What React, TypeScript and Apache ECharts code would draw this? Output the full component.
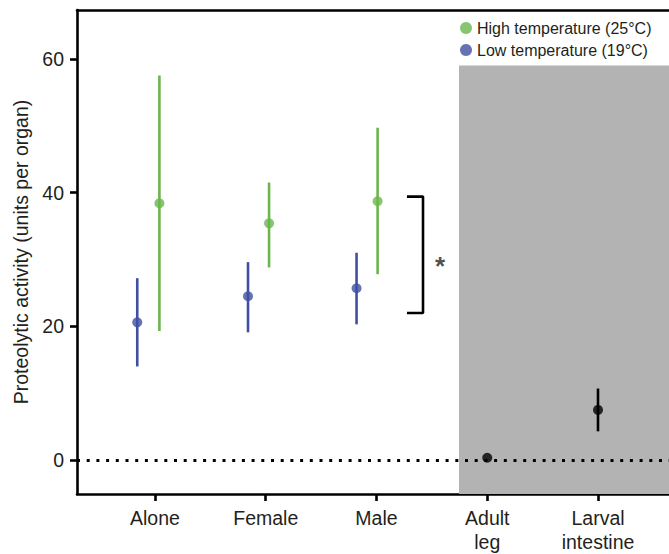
import React, { useEffect, useRef } from "react";
import * as echarts from "echarts";

const categories = ["Alone", "Female", "Male", "Adult\nleg", "Larval\nintestine"];
const categoryPositions = [0, 1, 2, 3, 4];
const yTicks = [0, 20, 40, 60];

// Low temperature (19°C): [x, mean, low, high]
const lowTempX = [-0.16, 0.84, 1.82];
const lowTempMean = [20.6, 24.5, 25.7];
const lowTempLow = [14.0, 19.1, 20.3];
const lowTempHigh = [27.2, 29.6, 31.0];

// High temperature (25°C)
const highTempX = [0.04, 1.03, 2.01];
const highTempMean = [38.4, 35.4, 38.7];
const highTempLow = [19.3, 28.8, 27.8];
const highTempHigh = [57.5, 41.5, 49.7];

// Controls (black)
const controlX = [3, 4];
const controlMean = [0.35, 7.5];
const controlLow = [null, 4.3];
const controlHigh = [null, 10.7];

// Significance bracket
const bracketX = [2.275, 2.42];
const bracketY = [39.4, 22.0];
const starPos = [2.575, 29.0];

const X_MIN = -0.704;
const X_MAX = 4.641;
const Y_MIN = -5.07;
const Y_MAX = 67.3;
const SHADE_X = 2.745;
const SHADE_TOP = 59.0;

const GREEN = "#6ab64c";
const BLUE = "#4050a0";
const FONT = "'Liberation Sans', Arial, Helvetica, sans-serif";
const TEXT = "#231f20";

function errorSeries(name: string, xs: number[], lo: (number | null)[], hi: (number | null)[], color: string) {
  const data: number[][] = [];
  xs.forEach((x, i) => {
    if (lo[i] != null && hi[i] != null) data.push([x, lo[i] as number, hi[i] as number]);
  });
  return {
    type: "custom",
    name,
    data,
    encode: { x: 0, y: [1, 2] },
    z: 3,
    silent: true,
    renderItem: (params: any, api: any) => {
      const p1 = api.coord([api.value(0), api.value(1)]);
      const p2 = api.coord([api.value(0), api.value(2)]);
      return {
        type: "line",
        shape: { x1: p1[0], y1: p1[1], x2: p2[0], y2: p2[1] },
        style: { stroke: color, lineWidth: 2.6 },
      };
    },
  };
}

export default function App() {
  const ref = useRef<HTMLDivElement>(null);
  useEffect(() => {
    if (!ref.current) return;
    const chart = echarts.init(ref.current, undefined, { renderer: "svg" });
    const option: any = {
      animation: false,
      backgroundColor: "#fff",
      textStyle: { fontFamily: FONT },
      grid: { left: 77, right: 0, top: 10, bottom: 59, containLabel: false },
      legend: {
        orient: "vertical",
        left: 455,
        top: 15,
        itemWidth: 12,
        itemHeight: 12,
        itemGap: 6,
        icon: "circle",
        textStyle: { fontFamily: FONT, fontSize: 16, color: TEXT },
        data: [
          { name: "High temperature (25°C)", itemStyle: { color: GREEN } },
          { name: "Low temperature (19°C)", itemStyle: { color: BLUE } },
        ],
        selectedMode: false,
      },
      xAxis: [
        {
          type: "value",
          min: X_MIN,
          max: X_MAX,
          splitLine: { show: false },
          axisLine: { show: true, onZero: false, lineStyle: { color: "#000", width: 2.6 } },
          axisTick: {
            show: true,
            customValues: categoryPositions,
            length: 7,
            lineStyle: { color: "#000", width: 2.6 },
          },
          axisLabel: {
            show: true,
            customValues: categoryPositions,
            formatter: (v: number) => categories[Math.round(v)] ?? "",
            fontFamily: FONT,
            fontSize: 19.5,
            color: TEXT,
            lineHeight: 24,
            margin: 12,
          },
        },
        {
          type: "value",
          position: "top",
          min: X_MIN,
          max: X_MAX,
          splitLine: { show: false },
          axisLine: { show: true, onZero: false, lineStyle: { color: "#000", width: 2.6 } },
          axisTick: { show: false },
          axisLabel: { show: false },
        },
      ],
      yAxis: {
        type: "value",
        min: Y_MIN,
        max: Y_MAX,
        splitLine: { show: false },
        name: "Proteolytic activity (units per organ)",
        nameLocation: "middle",
        nameRotate: 90,
        nameGap: 46,
        nameTextStyle: { fontFamily: FONT, fontSize: 19.5, color: TEXT },
        axisLine: { show: true, onZero: false, lineStyle: { color: "#000", width: 2.6 } },
        axisTick: {
          show: true,
          customValues: yTicks,
          length: 7,
          lineStyle: { color: "#000", width: 2.6 },
        },
        axisLabel: {
          show: true,
          customValues: yTicks,
          fontFamily: FONT,
          fontSize: 19.5,
          color: TEXT,
          margin: 13,
        },
      },
      series: [
        {
          type: "scatter",
          name: "background",
          data: [],
          silent: true,
          z: 1,
          markArea: {
            silent: true,
            itemStyle: { color: "#b3b3b3" },
            data: [[{ coord: [SHADE_X, SHADE_TOP] }, { coord: [X_MAX, Y_MIN] }]],
          },
          markLine: {
            silent: true,
            symbol: "none",
            label: { show: false },
            lineStyle: { color: "#000", type: [3, 6.7], width: 3 },
            data: [{ yAxis: 0 }],
          },
        },
        errorSeries("lowErr", lowTempX, lowTempLow, lowTempHigh, BLUE),
        errorSeries("highErr", highTempX, highTempLow, highTempHigh, GREEN),
        errorSeries("ctrlErr", controlX, controlLow, controlHigh, "#000"),
        {
          type: "scatter",
          name: "Low temperature (19°C)",
          data: lowTempX.map((x, i) => [x, lowTempMean[i]]),
          symbol: "circle",
          symbolSize: 10,
          itemStyle: { color: BLUE },
          z: 4,
        },
        {
          type: "scatter",
          name: "High temperature (25°C)",
          data: highTempX.map((x, i) => [x, highTempMean[i]]),
          symbol: "circle",
          symbolSize: 10,
          itemStyle: { color: GREEN },
          z: 4,
        },
        {
          type: "scatter",
          name: "controls",
          data: controlX.map((x, i) => [x, controlMean[i]]),
          symbol: "circle",
          symbolSize: 10,
          itemStyle: { color: "#000" },
          z: 4,
        },
        {
          type: "line",
          name: "bracket",
          data: [
            [bracketX[0], bracketY[0]],
            [bracketX[1], bracketY[0]],
            [bracketX[1], bracketY[1]],
            [bracketX[0], bracketY[1]],
          ],
          showSymbol: false,
          symbol: "none",
          lineStyle: { color: "#000", width: 2.6 },
          silent: true,
          z: 3,
        },
        {
          type: "scatter",
          name: "star",
          data: [starPos],
          symbolSize: 0,
          silent: true,
          label: {
            show: true,
            position: "inside",
            formatter: "*",
            fontFamily: FONT,
            fontSize: 26,
            fontWeight: "bold",
            color: TEXT,
          },
          z: 4,
        },
      ],
    };
    chart.setOption(option);
    return () => chart.dispose();
  }, []);
  return (
    <div
      ref={ref}
      style={{ position: "fixed", left: 0, top: 0, width: 669, height: 554 }}
    />
  );
}
